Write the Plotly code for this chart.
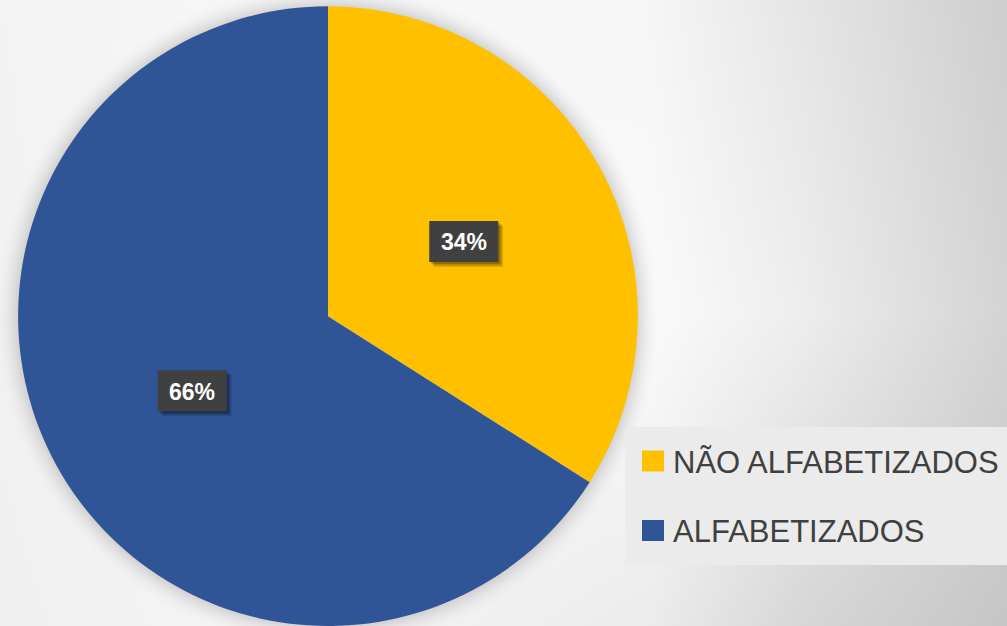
import base64
import math
import struct
import zlib

import numpy as np
import plotly.graph_objects as go

# ---------------- data ----------------
categories = ["NÃO ALFABETIZADOS", "ALFABETIZADOS"]
values = [34, 66]
colors = ["#FFC000", "#2F5597"]

W, H = 1007, 626

# pie domain (paper coords)
dom_x = [(328 - 310) / W, (328 + 310) / W]
dom_y = [0.0, 0.99]

# derived pie geometry in pixels
cx = (dom_x[0] + dom_x[1]) / 2 * W
cy = H - (dom_y[0] + dom_y[1]) / 2 * H
R = min((dom_x[1] - dom_x[0]) * W, (dom_y[1] - dom_y[0]) * H) / 2

# ---------------- background image (gradient + soft pie shadow) ----------------
gx = [0, 300, 650, 800, 1007]
gy = [0, 313, 626]
G = np.array([
    [243, 248, 246, 230, 206],
    [242, 250, 251, 238, 212],
    [240, 246, 236, 215, 198],
], float)
xs = np.arange(W) + 0.5
ys = np.arange(H) + 0.5
rows = np.array([np.interp(xs, gx, g) for g in G])
img = np.empty((H, W))
for j in range(W):
    img[:, j] = np.interp(ys, gy, rows[:, j])

X, Y = np.meshgrid(xs, ys)
d = np.sqrt((X - cx) ** 2 + (Y - cy) ** 2) - R
alpha = np.where(d > -3, 0.14 * np.clip(1 - d / 24, 0, 1) ** 2, 0)
img = img * (1 - alpha)
arr = np.clip(img, 0, 255).astype(np.uint8)


def to_png(a):
    h, w = a.shape
    raw = b"".join(b"\x00" + a[i].tobytes() for i in range(h))

    def chunk(t, dd):
        return struct.pack(">I", len(dd)) + t + dd + struct.pack(">I", zlib.crc32(t + dd) & 0xFFFFFFFF)

    return (b"\x89PNG\r\n\x1a\n"
            + chunk(b"IHDR", struct.pack(">IIBBBBB", w, h, 8, 0, 0, 0, 0))
            + chunk(b"IDAT", zlib.compress(raw, 9))
            + chunk(b"IEND", b""))


bg_src = "data:image/png;base64," + base64.b64encode(to_png(arr)).decode()

# ---------------- figure ----------------
fig = go.Figure()
fig.add_trace(go.Pie(
    labels=categories,
    values=values,
    marker=dict(colors=colors, line=dict(width=0)),
    sort=False,
    direction="clockwise",
    rotation=0,
    textinfo="none",
    hoverinfo="label+percent",
    showlegend=False,
    domain=dict(x=dom_x, y=dom_y),
))


def px2paper(px, py):
    return px / W, 1 - py / H


shapes = []
annotations = []

# percentage labels, placed at half radius along each slice's mid angle
total = sum(values)
cum = 0
for v in values:
    mid = (cum + v / 2) / total * 2 * math.pi
    cum += v
    lx = cx + 0.5 * R * math.sin(mid)
    ly = cy - 0.5 * R * math.cos(mid)
    bw, bh = 69, 41
    for off, op in [(5, 0.12), (3.5, 0.18), (2, 0.2)]:
        x0, y0 = px2paper(lx - bw / 2 + off, ly - bh / 2 + off)
        x1, y1 = px2paper(lx + bw / 2 + off, ly + bh / 2 + off)
        shapes.append(dict(type="rect", xref="paper", yref="paper", x0=x0, x1=x1, y0=y1, y1=y0,
                           fillcolor=f"rgba(0,0,0,{op})", line=dict(width=0), layer="above"))
    x0, y0 = px2paper(lx - bw / 2, ly - bh / 2)
    x1, y1 = px2paper(lx + bw / 2, ly + bh / 2)
    shapes.append(dict(type="rect", xref="paper", yref="paper", x0=x0, x1=x1, y0=y1, y1=y0,
                       fillcolor="#404040", line=dict(width=0), layer="above"))
    ax, ay = px2paper(lx, ly + 1)
    annotations.append(dict(x=ax, y=ay, xref="paper", yref="paper", showarrow=False,
                            text=f"<b>{round(v / total * 100)}%</b>",
                            font=dict(family="Liberation Sans, Arial, sans-serif", size=23, color="white"),
                            xanchor="center", yanchor="middle"))

# legend box
x0, y0 = px2paper(625, 427)
x1, y1 = px2paper(1007, 565)
shapes.append(dict(type="rect", xref="paper", yref="paper", x0=x0, x1=x1, y0=y1, y1=y0,
                   fillcolor="#EBEBEB", line=dict(width=0), layer="below"))

leg_y = [461, 530.5]
for lab, col, yc in zip(categories, colors, leg_y):
    mx0, my0 = px2paper(642, yc - 10.5)
    mx1, my1 = px2paper(664, yc + 10.5)
    shapes.append(dict(type="rect", xref="paper", yref="paper", x0=mx0, x1=mx1, y0=my1, y1=my0,
                       fillcolor=col, line=dict(width=0), layer="below"))
    tx, ty = px2paper(671, yc + 1)
    annotations.append(dict(x=tx, y=ty, xref="paper", yref="paper", showarrow=False, text=lab,
                            font=dict(family="Liberation Sans, Arial, sans-serif", size=31, color="#404040"),
                            xanchor="left", yanchor="middle"))

fig.update_layout(
    width=W, height=H,
    margin=dict(l=0, r=0, t=0, b=0),
    paper_bgcolor="#F2F2F2",
    plot_bgcolor="rgba(0,0,0,0)",
    images=[dict(source=bg_src, xref="paper", yref="paper", x=0, y=1, sizex=1, sizey=1,
                 xanchor="left", yanchor="top", sizing="stretch", layer="below")],
    shapes=shapes,
    annotations=annotations,
    showlegend=False,
)

fig.write_html("out.html", config={"displayModeBar": False})
